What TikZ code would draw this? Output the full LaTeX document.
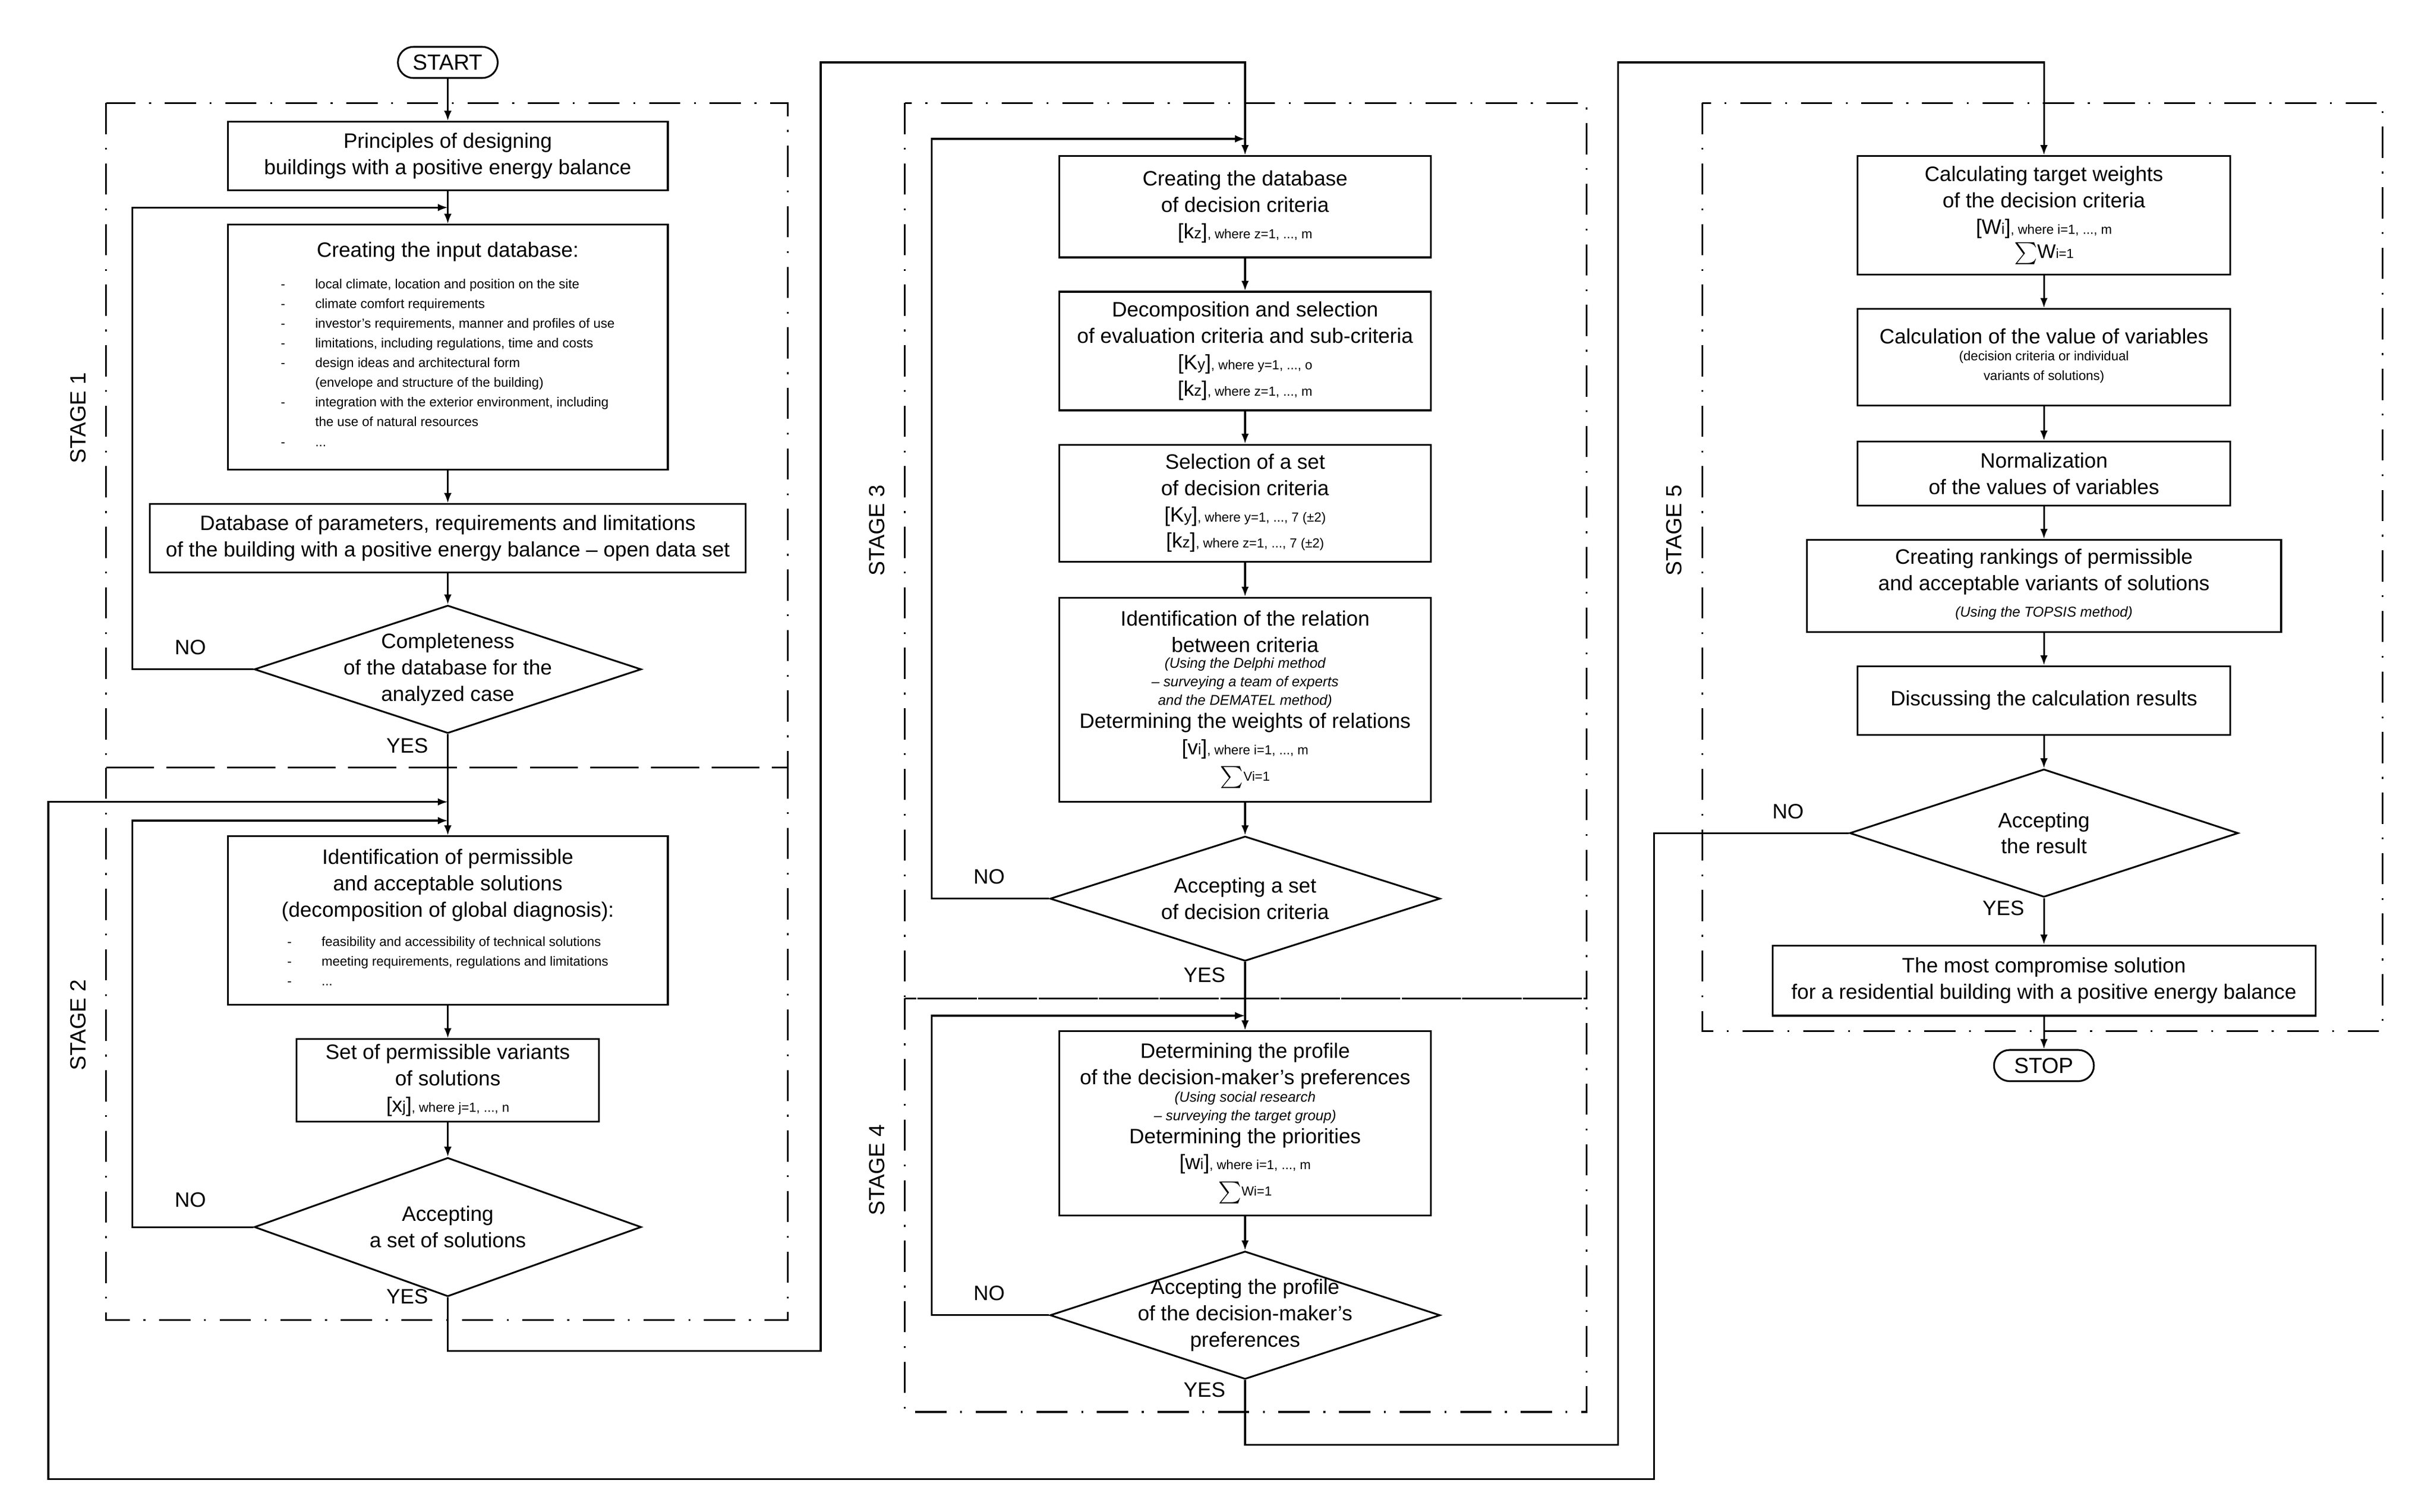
\documentclass[tikz,border=0pt]{standalone}
\usepackage{fontspec}
\setmainfont{Liberation Sans}
\usetikzlibrary{arrows.meta,shapes.geometric}
\newcommand{\crit}[3]{[#1{\fontsize{7}{9}\selectfont #2}]{\fontsize{6}{9}\selectfont, where #3}}
\newcommand{\smalltxt}{\fontsize{6}{9}\selectfont}
\newcommand{\note}[1]{{\fontsize{6.5}{8.5}\selectfont\itshape\begin{tabular}{@{}c@{}}#1\end{tabular}}}
\newcommand{\subnote}[1]{{\smalltxt\begin{tabular}{@{}c@{}}#1\end{tabular}}}
\tikzset{
  box/.style={draw, thick, rectangle, align=center, inner sep=1pt, font=\fontsize{9.5}{12}\selectfont},
  dec/.style={draw, thick, diamond, inner sep=0pt, label={[align=center, font=\fontsize{9.5}{12}\selectfont]center:#1}},
  term/.style={draw, thick, rounded corners=2.5mm, minimum width=16mm, minimum height=5mm, inner sep=1pt, font=\fontsize{10}{12}\selectfont},
  arr/.style={thick, -{Latex[length=1.6mm,width=1.2mm]}},
  stage/.style={thick, dash pattern=on 5mm off 2.2mm on 0.3mm off 2.2mm},
  lab/.style={font=\fontsize{9.5}{12}\selectfont},
  stagelab/.style={rotate=90, font=\fontsize{10}{12}\selectfont}
}
\begin{document}
\begin{tikzpicture}[x=0.25mm, y=-0.25mm]
	\useasboundingbox (0,0) rectangle (1560,969);
	% stage frames
	\draw[stage] (68,66) rectangle (505,492);
	\draw[stage] (68,492) rectangle (505,846);
	\draw[stage] (580,66) rectangle (1017,640);
	\draw[stage] (580,640) rectangle (1017,905);
	\draw[stage] (1091,66) rectangle (1527,661);
	\node[stagelab] (s1) at (50,268) {STAGE 1};
	\node[stagelab] (s2) at (50,657) {STAGE 2};
	\node[stagelab] (s3) at (562,340) {STAGE 3};
	\node[stagelab] (s4) at (562,750) {STAGE 4};
	\node[stagelab] (s5) at (1073,340) {STAGE 5};
	% column 1
	\node[term] (start) at (287,40) {START};
	\node[box, minimum width=70.5mm, minimum height=11mm] (p1) at (287,100) {Principles of designing\\buildings with a positive energy balance};
	\node[box, minimum width=70.5mm, minimum height=39.25mm] (p2) at (287,222.5) {Creating the input database:\\[5pt]
		{\smalltxt\begin{tabular}{@{}p{5.5mm}@{}l@{}}
		- & local climate, location and position on the site\\
		- & climate comfort requirements\\
		- & investor's requirements, manner and profiles of use\\
		- & limitations, including regulations, time and costs\\
		- & design ideas and architectural form\\
		  & (envelope and structure of the building)\\
		- & integration with the exterior environment, including\\
		  & the use of natural resources\\
		- & ...
		\end{tabular}}};
	\node[box, minimum width=95.5mm, minimum height=11mm] (p3) at (287,345) {Database of parameters, requirements and limitations\\of the building with a positive energy balance -- open data set};
	\node[dec={Completeness\\of the database for the\\analyzed case}, minimum width=62mm, minimum height=20.5mm] (d1) at (287,429) {};
	\node[box, minimum width=70.5mm, minimum height=27mm] (p4) at (287,590) {Identification of permissible\\and acceptable solutions\\(decomposition of global diagnosis):\\[4pt]
		{\smalltxt\begin{tabular}{@{}p{5.5mm}@{}l@{}}
		- & feasibility and accessibility of technical solutions\\
		- & meeting requirements, regulations and limitations\\
		- & ...
		\end{tabular}}};
	\node[box, minimum width=48.5mm, minimum height=13.25mm] (p5) at (287,692.5) {Set of permissible variants\\of solutions\\\crit{x}{j}{j=1, ..., n}};
	\node[dec={Accepting\\a set of solutions}, minimum width=62mm, minimum height=22.25mm] (d2) at (287,786.5) {};
	% column 2
	\node[box, minimum width=59.5mm, minimum height=16.25mm] (q1) at (798,132.5) {Creating the database\\of decision criteria\\\crit{k}{z}{z=1, ..., m}};
	\node[box, minimum width=59.5mm, minimum height=19mm] (q2) at (798,225) {Decomposition and selection\\of evaluation criteria and sub-criteria\\\crit{K}{y}{y=1, ..., o}\\\crit{k}{z}{z=1, ..., m}};
	\node[box, minimum width=59.5mm, minimum height=18.75mm] (q3) at (798,322.5) {Selection of a set\\of decision criteria\\\crit{K}{y}{y=1, ..., 7 (±2)}\\\crit{k}{z}{z=1, ..., 7 (±2)}};
	\node[box, minimum width=59.5mm, minimum height=32.75mm] (q4) at (798,448.5) {Identification of the relation\\between criteria\\
		\note{(Using the Delphi method\\-- surveying a team of experts\\and the DEMATEL method)}\\
		Determining the weights of relations\\\crit{v}{i}{i=1, ..., m}\\\subnote{$\sum$Vi=1}};
	\node[dec={Accepting a set\\of decision criteria}, minimum width=62.5mm, minimum height=20mm] (d3) at (798,576) {};
	\node[box, minimum width=59.5mm, minimum height=29.5mm] (q5) at (798,720) {Determining the profile\\of the decision-maker's preferences\\
		\note{(Using social research\\-- surveying the target group)}\\
		Determining the priorities\\\crit{w}{i}{i=1, ..., m}\\\subnote{$\sum$Wi=1}};
	\node[dec={Accepting the profile\\of the decision-maker's\\preferences}, minimum width=62.5mm, minimum height=20.5mm] (d4) at (798,843) {};
	% column 3
	\node[box, minimum width=59.75mm, minimum height=19mm] (r1) at (1310,138) {Calculating target weights\\of the decision criteria\\\crit{W}{i}{i=1, ..., m}\\[-1pt]{\small$\sum$W{\smalltxt i=1}}};
	\node[box, minimum width=59.75mm, minimum height=15.5mm] (r2) at (1310,229) {Calculation of the value of variables\\\subnote{(decision criteria or individual\\variants of solutions)}};
	\node[box, minimum width=59.75mm, minimum height=10.25mm] (r3) at (1310,303.5) {Normalization\\of the values of variables};
	\node[box, minimum width=76mm, minimum height=14.75mm] (r4) at (1310,375.5) {Creating rankings of permissible\\and acceptable variants of solutions\\\note{(Using the TOPSIS method)}};
	\node[box, minimum width=59.75mm, minimum height=11mm] (r5) at (1310,449) {Discussing the calculation results};
	\node[dec={Accepting\\the result}, minimum width=62.25mm, minimum height=20.5mm] (d5) at (1310,534) {};
	\node[box, minimum width=87mm, minimum height=11.25mm] (r6) at (1310,628.5) {The most compromise solution\\for a residential building with a positive energy balance};
	\node[term] (stop) at (1310,683) {STOP};
	% corner points
	\coordinate (l1) at (85,133);   \coordinate (m1) at (287,133);
	\coordinate (l2) at (85,526);   \coordinate (m2) at (287,526);
	\coordinate (l5) at (31,514);   \coordinate (m5) at (287,514);
	\coordinate (b5) at (1060,948);
	\coordinate (t1) at (526,866);  \coordinate (t2) at (798,40);
	\coordinate (l3) at (597,89);   \coordinate (m3) at (798,89);
	\coordinate (l4) at (597,651);  \coordinate (m4) at (798,651);
	\coordinate (t3) at (1037,926); \coordinate (t4) at (1310,40);
	% flow
	\draw[arr] (start) -- (p1);
	\draw[arr] (p1) -- (p2);
	\draw[arr] (p2) -- (p3);
	\draw[arr] (p3) -- (d1);
	\draw[arr] (d1) -- (p4);
	\draw[arr] (d1.west) -| (l1) -- (m1);
	\draw[arr] (p4) -- (p5);
	\draw[arr] (p5) -- (d2);
	\draw[arr] (d2.west) -| (l2) -- (m2);
	\draw[arr] (d2.south) |- (t1) |- (t2) -- (q1);
	\draw[arr] (q1) -- (q2);
	\draw[arr] (q2) -- (q3);
	\draw[arr] (q3) -- (q4);
	\draw[arr] (q4) -- (d3);
	\draw[arr] (d3.west) -| (l3) -- (m3);
	\draw[arr] (d3) -- (q5);
	\draw[arr] (q5) -- (d4);
	\draw[arr] (d4.west) -| (l4) -- (m4);
	\draw[arr] (d4.south) |- (t3) |- (t4) -- (r1);
	\draw[arr] (r1) -- (r2);
	\draw[arr] (r2) -- (r3);
	\draw[arr] (r3) -- (r4);
	\draw[arr] (r4) -- (r5);
	\draw[arr] (r5) -- (d5);
	\draw[arr] (d5) -- (r6);
	\draw[arr] (r6) -- (stop);
	\draw[arr] (d5.west) -| (b5) -| (l5) -- (m5);
	% labels
	\node[lab] (no1) at (122,415) {NO};
	\node[lab] (yes1) at (261,478) {YES};
	\node[lab] (no2) at (122,769) {NO};
	\node[lab] (yes2) at (261,831) {YES};
	\node[lab] (no3) at (634,562) {NO};
	\node[lab] (yes3) at (772,625) {YES};
	\node[lab] (no4) at (634,829) {NO};
	\node[lab] (yes4) at (772,891) {YES};
	\node[lab] (no5) at (1146,520) {NO};
	\node[lab] (yes5) at (1284,582) {YES};
\end{tikzpicture}
\end{document}
